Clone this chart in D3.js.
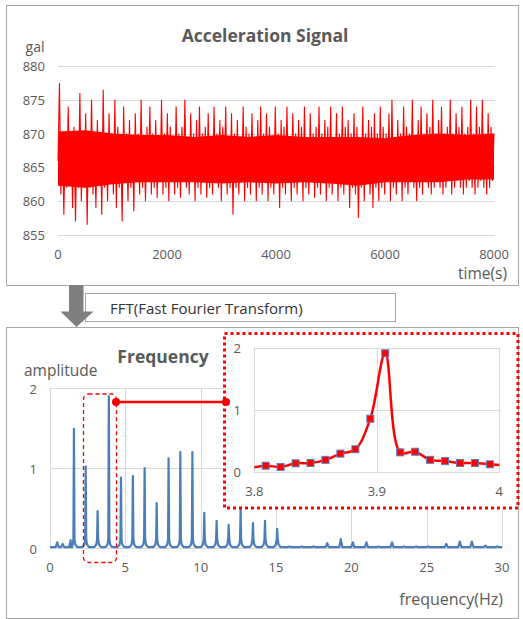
<!DOCTYPE html>
<html><head><meta charset="utf-8">
<script src="https://cdn.jsdelivr.net/npm/d3@7"></script>
<style>
body{margin:0;background:#fff}
svg{display:block}
text{font-family:"Open Sans",sans-serif;fill:#595959}
</style>
</head><body><svg id="c" width="523" height="619"></svg>
<script>
// ---- Acceleration signal (gal), evenly spaced over 0..8000 s ----
const signal = [
866,877.5,861,870,858,869,862,874,863,870,859,871,857,869,862,876,860,870,863,873,
856.5,870,862,875,861,869,859,872,863,870,858,876.5,862,869,860,873,863,870,861,875,
859,871,862,869,857,874,863,870,860,872,862,869,858.5,873,863,870,861,875,862,869,
860,871,863,874,861,870,862,872,860.5,869,863,875,861,870,862,873,860,871,863,869,
861,874,862,870,860.5,871,863,875,862,869,861,873,863,870,860,872,862,874,861,870,
863,871,860.5,873,862,869,861,874,863,870,862,872,860,871,863,874,861,869,862,873,
858,870,862,872,861,869,863,874,860,871,862,870,861,873,863,869,860,872,862,874,
861,870,863,873,860,871,862,869,861,874,863,870,859,872,862,871,861,874,863,869,
860,873,862,870,861,872,863,871,860,874,862,869,861,873,863,870,860.5,871,862,874,
861,870,863,872,860,871,862,874,861,869,863,873,860,870,862,874,861,871,863,872,
859,870,862,873,861,871,857.5,869,862,874,860,870,863,872,861,871,859,873,862,870,
860,874,862,871,861,870,863,873,860,875,862,869,861,872,863,870,860,874,862,871,
861,870,863,875,862,869,860,872,862,874,861,870,863,873,862,871,861,875,862,870,
863,872,862,874,861,870,862,871,863,875,861,870,862,873,863,871,862,874,861,870,
862,871,863,875,862,870,861,874,862,871,863,875,862,870,861,873,862,871,863,870
];
// dense core of the signal (solid red band in the picture)
const bandTime  = [0,500,1000,1500,2000,2500,3000,3500,4000,4500,5000,5500,6000,6500,7000,7500,8000];
const bandUpper = [870.3,870.5,870,869.8,869.8,869.5,869.8,869.5,869.8,869.5,869.5,869.5,869.3,869.8,870,869.8,870];
const bandLower = [862.3,862,862.5,862.8,862.8,862.8,862.6,862.8,862.6,862.8,862.6,862.3,862.8,862.8,862.8,863.2,863.2];
const timeMax = 8000;
const topYTicks = [855,860,865,870,875,880];
const topXTicks = [0,2000,4000,6000,8000];

// ---- FFT spectrum peaks ----
const peakFreq = [0.48,0.84,1.37,1.59,2.37,3.16,3.905,4.71,5.50,6.28,7.08,7.87,8.65,9.45,10.24,11.06,11.86,12.65,13.47,14.27,15.08,15.9,16.7,17.5,18.4,19.3,20.1,21.0,21.8,22.7,23.5,24.3,25.1,26.3,27.2,28.0,28.9,29.7];
const peakAmp  = [0.07,0.05,0.10,1.49,1.02,0.46,1.90,0.88,0.90,1.00,0.56,1.12,1.20,1.20,0.44,0.34,0.29,0.50,0.31,0.34,0.24,0.02,0.02,0.02,0.06,0.11,0.07,0.07,0.02,0.07,0.02,0.02,0.02,0.05,0.08,0.08,0.03,0.02];
const baseAmp = 0.012;
const freqXTicks = [0,5,10,15,20,25,30];
const freqYTicks = [0,1,2];

// ---- Zoomed spectrum 3.8..4 Hz ----
const zoomFreq = [3.7971,3.8093,3.8215,3.8337,3.8459,3.8581,3.8703,3.8825,3.8947,3.9069,3.9191,3.9313,3.9435,3.9557,3.9679,3.9801,3.9923,4.0045];
const zoomAmp  = [0.07,0.106,0.085,0.144,0.149,0.20,0.30,0.37,0.86,1.91,0.32,0.33,0.20,0.18,0.149,0.149,0.128,0.11];
const zoomXTicks = [3.8,3.9,4];
const zoomYTicks = [0,1,2];

const svg = d3.select("#c");
const grid = "#d9d9d9";

// ================= Top panel =================
svg.append("rect").attr("x",6.5).attr("y",5.5).attr("width",512).attr("height",280)
  .attr("fill","#fff").attr("stroke","#a6a6a6");

const xT = d3.scaleLinear([0,timeMax],[58,494]);
const yT = d3.scaleLinear([855,880],[235,66]);

svg.append("g").selectAll("line").data(topYTicks).join("line")
  .attr("x1",58).attr("x2",495).attr("y1",d=>Math.round(yT(d))+0.5).attr("y2",d=>Math.round(yT(d))+0.5)
  .attr("stroke",grid);
svg.append("g").selectAll("text").data(topYTicks).join("text")
  .attr("x",45).attr("y",d=>yT(d)).attr("text-anchor","end").attr("dominant-baseline","central")
  .attr("font-size",13).text(d=>d);
svg.append("g").selectAll("text").data(topXTicks).join("text")
  .attr("x",d=>xT(d)).attr("y",254).attr("text-anchor","middle").attr("dominant-baseline","central")
  .attr("font-size",13).text(d=>d);

const band = d3.area().x((d,i)=>xT(bandTime[i])).y0((d,i)=>yT(bandLower[i])).y1(d=>yT(d));
svg.append("path").attr("d",band(bandUpper)).attr("fill","#ff0000");
const sigLine = d3.line().x((d,i)=>xT(i*timeMax/(signal.length-1))).y(d=>yT(d));
svg.append("path").attr("d",sigLine(signal)).attr("fill","none").attr("stroke","#ff0000")
  .attr("stroke-width",1.1).attr("stroke-linejoin","miter").attr("stroke-miterlimit",1);

svg.append("text").attr("x",265).attr("y",35).attr("text-anchor","middle").attr("dominant-baseline","central")
  .attr("font-size",17.5).attr("font-weight","bold").text("Acceleration Signal");
svg.append("text").attr("x",35).attr("y",46).attr("text-anchor","middle").attr("dominant-baseline","central")
  .attr("font-size",14).text("gal");
svg.append("text").attr("x",507).attr("y",273).attr("text-anchor","end").attr("dominant-baseline","central")
  .attr("font-size",15.5).text("time(s)");

// ================= Bottom panel =================
svg.append("rect").attr("x",6.5).attr("y",327.5).attr("width",512).attr("height",291)
  .attr("fill","#fff").attr("stroke","#a6a6a6");

// arrow + FFT box
svg.append("rect").attr("x",85.5).attr("y",293.5).attr("width",310).attr("height",28)
  .attr("fill","#fff").attr("stroke","#a6a6a6");
svg.append("text").attr("x",110).attr("y",308).attr("dominant-baseline","central")
  .attr("font-size",15).style("fill","#333").text("FFT(Fast Fourier Transform)");
svg.append("path").attr("d","M69,285 L83.5,285 L83.5,311.5 L93.5,311.5 L76.5,327 L60.5,311.5 L69,311.5 Z")
  .attr("fill","#7f7f7f");

const xF = d3.scaleLinear([0,30],[50,502]);
const yF = d3.scaleLinear([0,2],[548,388]);

svg.append("g").selectAll("line").data(freqXTicks).join("line")
  .attr("x1",d=>Math.round(xF(d))+0.5).attr("x2",d=>Math.round(xF(d))+0.5).attr("y1",388).attr("y2",548)
  .attr("stroke",grid);
svg.append("g").selectAll("line").data(freqYTicks).join("line")
  .attr("x1",50).attr("x2",502).attr("y1",d=>Math.round(yF(d))+0.5).attr("y2",d=>Math.round(yF(d))+0.5)
  .attr("stroke",grid);
svg.append("g").selectAll("text").data(freqYTicks).join("text")
  .attr("x",37).attr("y",d=>yF(d)+1).attr("text-anchor","end").attr("dominant-baseline","central")
  .attr("font-size",13).text(d=>d);
svg.append("g").selectAll("text").data(freqXTicks).join("text")
  .attr("x",d=>xF(d)).attr("y",567).attr("text-anchor","middle").attr("dominant-baseline","central")
  .attr("font-size",13).text(d=>d);

// spectrum line built from peak list
let pts = [[0,baseAmp]];
peakFreq.forEach((f,i)=>{
  const a = peakAmp[i];
  if (a > 0.15) {
    pts.push([f-0.22,baseAmp],[f-0.09,baseAmp+0.03],[f-0.035,baseAmp+0.1],[f,a],[f+0.035,baseAmp+0.1],[f+0.09,baseAmp+0.03],[f+0.22,baseAmp]);
  } else {
    pts.push([f-0.1,baseAmp],[f,a],[f+0.1,baseAmp]);
  }
});
pts.push([30,baseAmp]);
pts.sort((p,q)=>p[0]-q[0]);
svg.append("path").attr("d",d3.line().x(d=>xF(d[0])).y(d=>yF(d[1]))(pts))
  .attr("fill","none").attr("stroke","#4a7ebb").attr("stroke-width",2.2).attr("stroke-linejoin","round");

svg.append("text").attr("x",163).attr("y",356).attr("text-anchor","middle").attr("dominant-baseline","central")
  .attr("font-size",17.5).attr("font-weight","bold").text("Frequency");
svg.append("text").attr("x",24).attr("y",370).attr("dominant-baseline","central")
  .attr("font-size",15.5).text("amplitude");
svg.append("text").attr("x",503).attr("y",599).attr("text-anchor","end").attr("dominant-baseline","central")
  .attr("font-size",16).text("frequency(Hz)");

// dashed highlight around main peak
svg.append("rect").attr("x",83.5).attr("y",394).attr("width",33).attr("height",168.5).attr("rx",5)
  .attr("fill","none").attr("stroke","#ff0000").attr("stroke-width",1.3).attr("stroke-dasharray","4,3");

// ================= Inset =================
const ix = d3.scaleLinear([3.8,4],[254.3,499.3]);
const iy = d3.scaleLinear([0,2],[472.3,347.7]);
svg.append("rect").attr("x",224).attr("y",333).attr("width",294).attr("height",175).attr("fill","#fff");

svg.append("g").selectAll("line").data(zoomYTicks).join("line")
  .attr("x1",254.3).attr("x2",499.3).attr("y1",d=>Math.round(iy(d))+0.5).attr("y2",d=>Math.round(iy(d))+0.5)
  .attr("stroke",grid);
svg.append("g").selectAll("line").data(zoomXTicks).join("line")
  .attr("x1",d=>Math.round(ix(d))+0.5).attr("x2",d=>Math.round(ix(d))+0.5).attr("y1",347.7).attr("y2",472.3)
  .attr("stroke",grid);
svg.append("g").selectAll("text").data(zoomYTicks).join("text")
  .attr("x",241).attr("y",d=>iy(d)).attr("text-anchor","end").attr("dominant-baseline","central")
  .attr("font-size",13).text(d=>d);
svg.append("g").selectAll("text").data(zoomXTicks).join("text")
  .attr("x",d=>ix(d)).attr("y",491).attr("text-anchor","middle").attr("dominant-baseline","central")
  .attr("font-size",13).text(d=>d);

svg.append("clipPath").attr("id","ic").append("rect")
  .attr("x",254.3).attr("y",330).attr("width",245).attr("height",150);
const zpts = zoomFreq.map((f,i)=>[f,zoomAmp[i]]);
svg.append("path").attr("clip-path","url(#ic)")
  .attr("d",d3.line().x(d=>ix(d[0])).y(d=>iy(d[1])).curve(d3.curveCatmullRom.alpha(0.5))(zpts))
  .attr("fill","none").attr("stroke","#ff0000").attr("stroke-width",2.5);
svg.append("g").selectAll("rect").data(zpts.filter(d=>d[0]>=3.8&&d[0]<=4)).join("rect")
  .attr("x",d=>ix(d[0])-3.5).attr("y",d=>iy(d[1])-3.5).attr("width",7).attr("height",7)
  .attr("fill","#ff0000").attr("stroke","#5b7fc4").attr("stroke-width",1);

svg.append("rect").attr("x",224.5).attr("y",333.5).attr("width",293.5).attr("height",174.5)
  .attr("fill","none").attr("stroke","#ff0000").attr("stroke-width",3).attr("stroke-dasharray","3,3");

// connector
svg.append("line").attr("x1",116).attr("x2",226).attr("y1",402).attr("y2",402)
  .attr("stroke","#ff0000").attr("stroke-width",2.5);
svg.append("g").selectAll("circle").data([116,226]).join("circle")
  .attr("cx",d=>d).attr("cy",402).attr("r",4).attr("fill","#ff0000");
</script>
</body></html>
